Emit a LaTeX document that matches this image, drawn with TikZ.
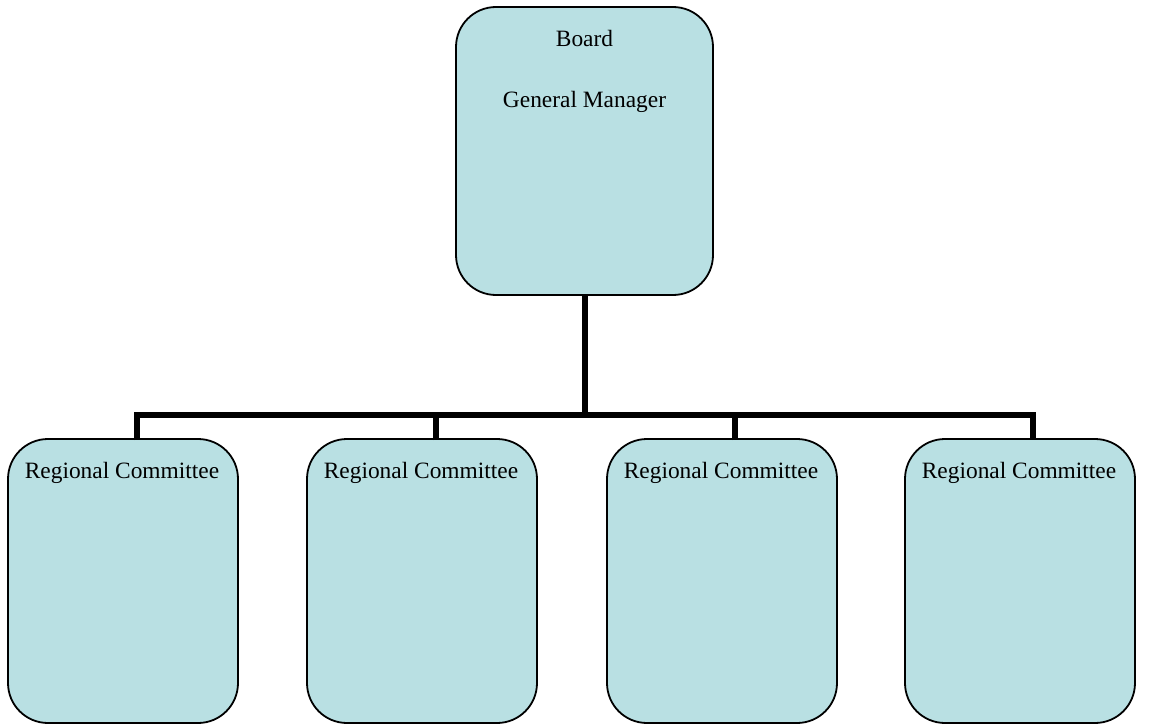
\documentclass[tikz,border=0pt]{standalone}
\usepackage{fontspec}
\setmainfont{Liberation Serif}
\definecolor{boxfill}{RGB}{185,224,227}
\begin{document}
\begin{tikzpicture}[x=1pt,y=-1pt,
  orgbox/.style={draw=black, line width=1.8pt, fill=boxfill, rounded corners=40pt,
    inner sep=0pt, outer sep=0pt, anchor=north west},
  lbl/.style={font=\fontsize{23.4}{28}\selectfont, anchor=base, inner sep=0pt},
  conn/.style={draw=black, line width=6pt, line join=miter}]
\useasboundingbox (0,0) rectangle (1152,725);
\node[orgbox, minimum width=257pt, minimum height=288pt] (top) at (456,7) {};
\node[orgbox, minimum width=230pt, minimum height=284pt] (r1) at (8,439) {};
\node[orgbox, minimum width=230pt, minimum height=284pt] (r2) at (307,439) {};
\node[orgbox, minimum width=230pt, minimum height=284pt] (r3) at (607,439) {};
\node[orgbox, minimum width=230pt, minimum height=284pt] (r4) at (905,439) {};
\node[lbl] (tb) at ([yshift=-40pt]top.north) {Board};
\node[lbl] (tg) at ([yshift=-100pt]top.north) {General Manager};
\foreach \r in {r1,r2,r3,r4}{
  \node[lbl] (\r t) at ([yshift=-39pt,xshift=-1pt]\r.north) {Regional Committee};
}
\coordinate (bus) at (585,415);
\draw[conn] (top.south) -- (top.south |- bus);
\draw[conn] ([xshift=14pt,yshift=-1pt]r1.north) |- (bus) -| ([xshift=13pt,yshift=-1pt]r4.north);
\draw[conn] ([xshift=14pt,yshift=-1pt]r2.north) -- ([xshift=14pt]r2.north |- bus);
\draw[conn] ([xshift=13pt,yshift=-1pt]r3.north) -- ([xshift=13pt]r3.north |- bus);
\end{tikzpicture}
\end{document}
